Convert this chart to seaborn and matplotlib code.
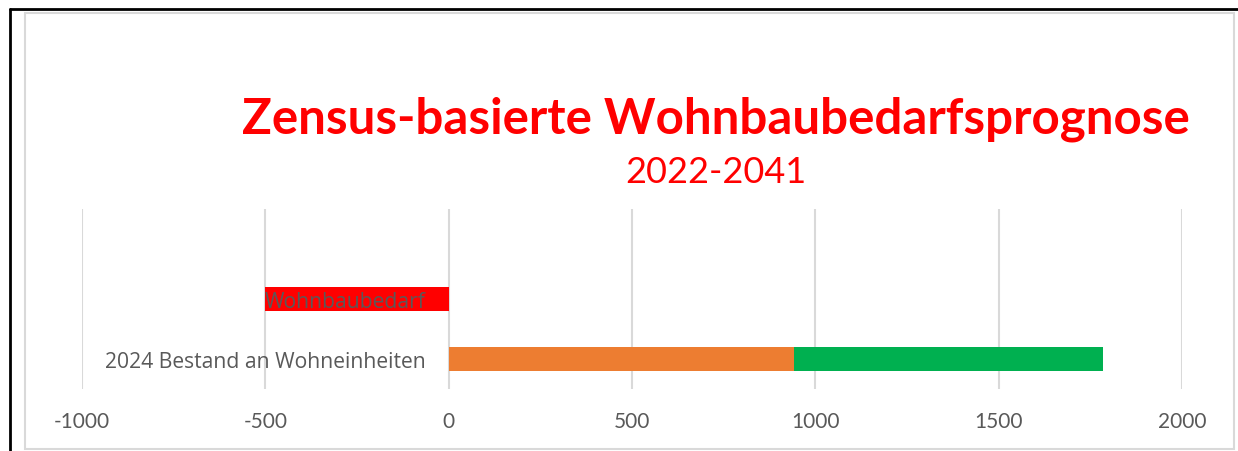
import matplotlib
matplotlib.use("Agg")
import matplotlib.pyplot as plt
import seaborn as sns
import pandas as pd
import numpy as np
from matplotlib.lines import Line2D
from matplotlib.patches import Rectangle

# ---- data ----
categories = ["Wohnbaubedarf", "2024 Bestand an Wohneinheiten"]
bedarf_values = [-500, np.nan]        # red
bestand_values = [np.nan, 941]        # orange
zuwachs_values = [np.nan, 843]        # green (stacked after orange)
x_ticks = [-1000, -500, 0, 500, 1000, 1500, 2000]
title = "Zensus-basierte Wohnbaubedarfsprognose"
subtitle = "2022-2041"

RED = "#FF0000"
ORANGE = "#ED7D31"
GREEN = "#00B050"
GRAY_TXT = "#595959"
GRID = "#D9D9D9"

sns.set_theme(style="whitegrid")
plt.rcParams["font.family"] = ["Lato", "DejaVu Sans"]

W, H = 1238, 452
fig = plt.figure(figsize=(W / 100, H / 100), dpi=100)
fig.patch.set_facecolor("white")
ax = fig.add_axes([82 / W, (H - 390) / H, 1100 / W, 180 / H])
ax.set_facecolor("white")

df = pd.DataFrame({
    "cat": categories,
    "bedarf": bedarf_values,
    "bestand": bestand_values,
    "zuwachs": zuwachs_values,
})
df["stack_top"] = df["bestand"] + df["zuwachs"]

common = dict(y="cat", order=categories, orient="h", width=0.4,
              saturation=1, errorbar=None, ax=ax, linewidth=0)
sns.barplot(data=df.dropna(subset=["stack_top"]), x="stack_top", color=GREEN, **common)
sns.barplot(data=df.dropna(subset=["bestand"]), x="bestand", color=ORANGE, **common)
sns.barplot(data=df.dropna(subset=["bedarf"]), x="bedarf", color=RED, **common)

ax.set_xlim(-1000, 2000)
ax.set_ylim(1.5, -1.5)
ax.set_xticks(x_ticks)
ax.set_xticklabels([str(t) for t in x_ticks])
ax.set_xlabel("")
ax.set_ylabel("")

ax.xaxis.grid(True, color=GRID, linewidth=1.5)
ax.yaxis.grid(False)
for s in ax.spines.values():
    s.set_visible(False)
ax.spines["left"].set_position(("data", 0))

ax.tick_params(axis="x", length=0, pad=16, labelsize=15, labelcolor=GRAY_TXT)
ax.tick_params(axis="y", length=0, pad=16.5, labelsize=15.2, labelcolor=GRAY_TXT)
for lbl in ax.get_yticklabels():
    lbl.set_fontfamily(["Open Sans", "DejaVu Sans"])
ax.set_axisbelow(True)
ax.yaxis.set_zorder(5)

# titles
fig.text(716 / W, 1 - 119 / H, title, ha="center", va="center",
         fontsize=35.5, fontweight="bold", color=RED)
fig.text(716 / W, 1 - 173 / H, subtitle, ha="center", va="center",
         fontsize=26, color=RED)

# frame lines (chart border as in the screenshot)
fig.add_artist(Rectangle((24.5 / W, 1 - 450 / H), (1234 - 24.5) / W, (450 - 13.5) / H,
                         transform=fig.transFigure, fill=False,
                         edgecolor=GRID, linewidth=1.5))
fig.add_artist(Line2D([10 / W, 1], [1 - 10 / H, 1 - 10 / H],
                      transform=fig.transFigure, color="black", linewidth=2))
fig.add_artist(Line2D([10 / W, 10 / W], [0, 1 - 10 / H],
                      transform=fig.transFigure, color="black", linewidth=2))

fig.savefig("out.png", dpi=100, facecolor="white")
